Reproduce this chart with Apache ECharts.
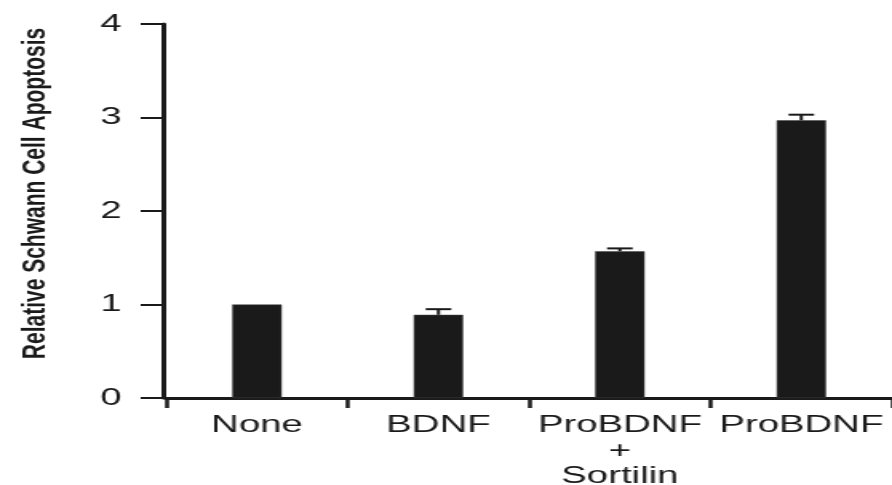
<!DOCTYPE html>
<html>
<head>
<meta charset="utf-8">
<script src="https://cdn.jsdelivr.net/npm/echarts@6/dist/echarts.min.js"></script>
<style>
  html, body { margin: 0; padding: 0; background: #fff; overflow: hidden; }
  #chart { width: 558px; height: 485px; transform: scaleX(1.5986); transform-origin: 0 0; }
</style>
</head>
<body>
<div id="chart"></div>
<script>
// Data
const categories = ['None', 'BDNF', 'ProBDNF\n+\nSortilin', 'ProBDNF'];
const apoptosis = [1.0, 0.89, 1.57, 2.97];
const errorUp = [0, 0.06, 0.03, 0.06];
const yMin = 0, yMax = 4, yInterval = 1;
const yTitle = 'Relative Schwann Cell Apoptosis';

const chart = echarts.init(document.getElementById('chart'));
const font = '"Liberation Sans", Arial, Helvetica, sans-serif';
const ink = '#1a1a1a';

chart.setOption({
  animation: false,
  backgroundColor: '#fff',
  grid: { left: 104, right: 0, top: 24, bottom: 87, containLabel: false, outerBoundsMode: 'none' },
  xAxis: {
    type: 'category',
    data: categories,
    axisLine: { lineStyle: { color: ink, width: 3 } },
    axisTick: { show: true, alignWithLabel: false, length: 10, lineStyle: { color: ink, width: 2.5 } },
    axisLabel: {
      interval: 0, margin: 15, color: ink, fontFamily: font, fontSize: 24,
      lineHeight: 25.5, align: 'center'
    },
    splitLine: { show: false }
  },
  yAxis: {
    type: 'value',
    min: yMin, max: yMax, interval: yInterval,
    offset: 1.5,
    name: yTitle,
    nameLocation: 'middle',
    nameGap: 70,
    nameTextStyle: { color: ink, fontFamily: font, fontSize: 21, fontWeight: 'bold', padding: [0, 0, 0, 35] },
    axisLine: { show: true, lineStyle: { color: ink, width: 3 } },
    axisTick: { show: true, length: 14.5, lineStyle: { color: ink, width: 2 } },
    axisLabel: { margin: 26.5, color: ink, fontFamily: font, fontSize: 24 },
    splitLine: { show: false }
  },
  series: [
    {
      type: 'bar',
      data: apoptosis,
      barWidth: 31,
      itemStyle: { color: ink, borderColor: '#444', borderWidth: 0.5 },
      z: 2
    },
    {
      type: 'custom',
      data: categories.map((c, i) => [i, apoptosis[i], errorUp[i]]),
      z: 3,
      renderItem: function (params, api) {
        const err = api.value(2);
        if (!(err > 0)) return null;
        const base = api.coord([api.value(0), api.value(1)]);
        const top = api.coord([api.value(0), api.value(1) + err]);
        const half = 8;
        const style = { stroke: ink, lineWidth: 2 };
        return {
          type: 'group',
          children: [
            { type: 'line', shape: { x1: base[0], y1: base[1], x2: top[0], y2: top[1] }, style: style },
            { type: 'line', shape: { x1: top[0] - half, y1: top[1], x2: top[0] + half, y2: top[1] }, style: style }
          ]
        };
      }
    }
  ]
});
</script>
</body>
</html>
